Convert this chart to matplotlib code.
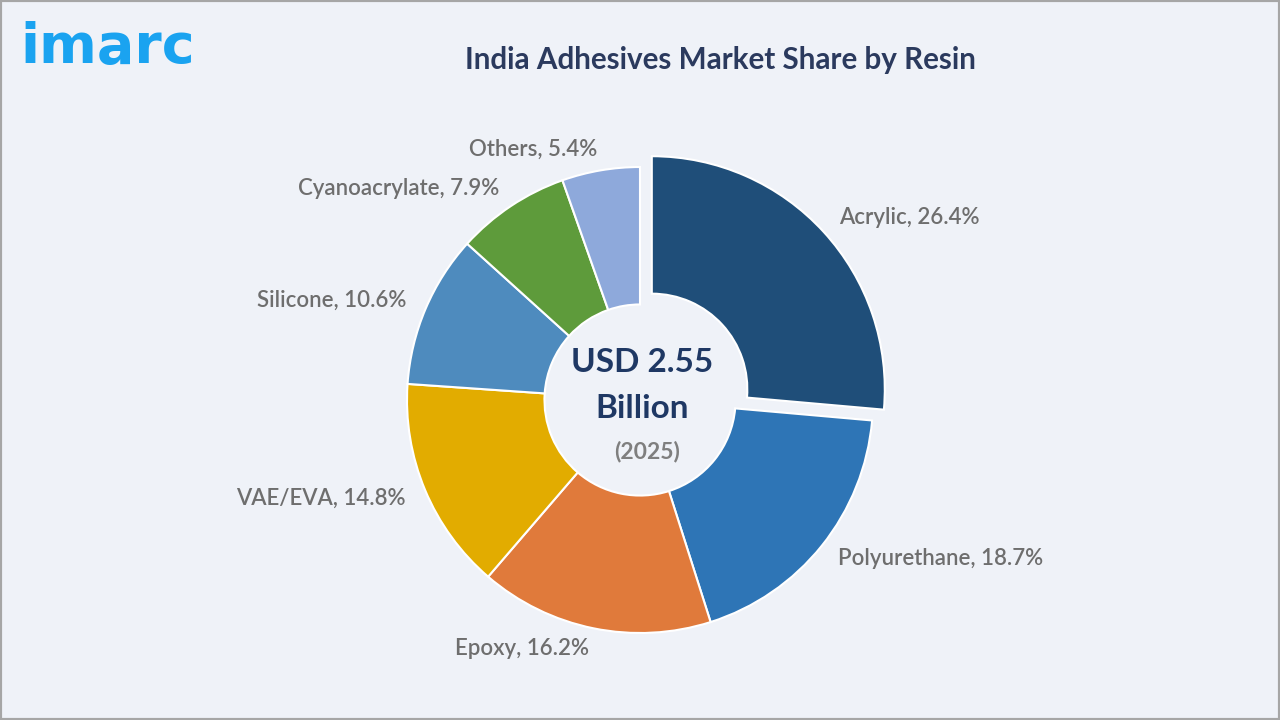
import matplotlib.pyplot as plt
from matplotlib.patches import Rectangle

resins = ['Acrylic', 'Polyurethane', 'Epoxy', 'VAE/EVA', 'Silicone', 'Cyanoacrylate', 'Others']
shares = [26.4, 18.7, 16.2, 14.8, 10.6, 7.9, 5.4]
colors = ['#1F4E79', '#2E75B6', '#E07A3B', '#E2AC00', '#4E8BBE', '#5E9B3B', '#8EA9DB']

title = 'India Adhesives Market Share by Resin'
center_value = 'USD 2.55'
center_unit = 'Billion'
center_year = '(2025)'

W, H = 1280, 720
bg = '#EFF2F8'
fig = plt.figure(figsize=(12.8, 7.2), dpi=100, facecolor=bg)
ax = fig.add_axes([0, 0, 1, 1])
ax.set_facecolor(bg)

cx, cy, r = 640, H - 400, 233
# pie explode is in data units here (pixels)
explode = [16, 0, 0, 0, 0, 0, 0]
labels = ['{}, {}%'.format(n, v) for n, v in zip(resins, shares)]
wedges, texts = ax.pie(shares, labels=labels, colors=colors, explode=explode, startangle=90,
                       counterclock=False, center=(cx, cy), radius=r, labeldistance=1.09,
                       wedgeprops=dict(width=r * 0.59, edgecolor='white', linewidth=1.5),
                       textprops=dict(color='#6E6E6E', fontsize=16, family='Lato',
                                      fontweight='semibold'))
for t in texts:
    x, y = t.get_position()
    t.set_ha('left' if x > cx else 'right')

ax.text(cx + 2, cy + 38, center_value, ha='center', va='center', fontsize=24,
        fontweight='bold', color='#1F3864', family='Lato')
ax.text(cx + 2, cy - 8, center_unit, ha='center', va='center', fontsize=24,
        fontweight='bold', color='#1F3864', family='Lato')
ax.text(cx + 7, cy - 52, center_year, ha='center', va='center', fontsize=16.5,
        fontweight='bold', color='#7F7F7F', family='Lato')

ax.set_xlim(0, W)
ax.set_ylim(0, H)
ax.set_aspect('equal')
ax.axis('off')

fig.text(720 / W, 1 - 60 / H, title, ha='center', va='center', fontsize=21.3,
         fontweight='bold', color='#2B3A5E', family='Lato')
fig.text(20 / W, 1 - 48 / H, 'imarc', ha='left', va='center', fontsize=40,
         fontweight='bold', color='#1AA3F0', family='DejaVu Sans')

fig.patches.append(Rectangle((0, 0), 1, 1, transform=fig.transFigure, fill=False,
                             edgecolor='#A6A6A6', linewidth=3))

fig.savefig('out.png', dpi=100, facecolor=bg)
